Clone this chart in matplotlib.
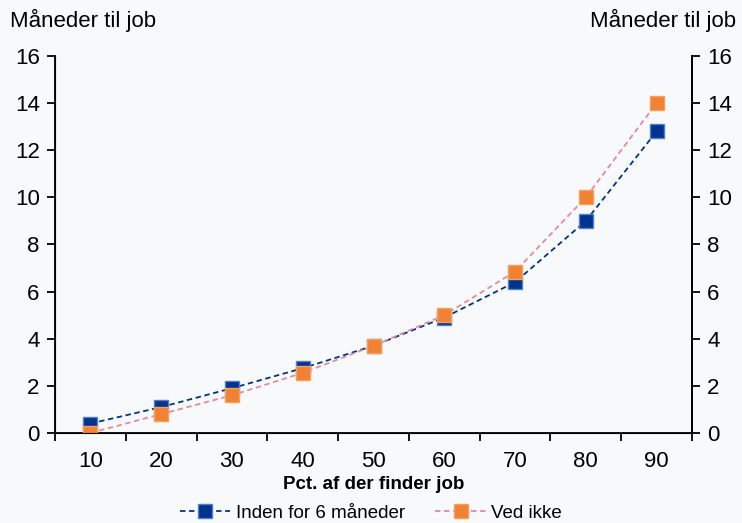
import matplotlib.pyplot as plt
from matplotlib.ticker import FixedLocator

plt.rcParams['font.family'] = ['Liberation Sans', 'DejaVu Sans']

categories = ["10", "20", "30", "40", "50", "60", "70", "80", "90"]
inden_6 = [0.4, 1.1, 1.9, 2.75, 3.7, 4.9, 6.4, 9.0, 12.8]
ved_ikke = [0.0, 0.8, 1.6, 2.55, 3.7, 5.0, 6.85, 10.0, 14.0]

BG = "#f7f9fa"
BLUE = "#00338d"
BLUE_EDGE = "#4f7fd0"
ORANGE = "#f08232"
PINK = "#e8899a"


def main():
    fig = plt.figure(figsize=(7.42, 5.23), dpi=100, facecolor=BG)
    ax = fig.add_axes([55 / 742, 1 - 433 / 523, 637 / 742, 377 / 523])
    ax.set_facecolor(BG)

    x = list(range(1, len(categories) + 1))
    ax.plot(x, inden_6, linestyle=(0, (3, 2)), color=BLUE, lw=1.3,
            marker="s", markersize=9.5, markerfacecolor=BLUE,
            markeredgecolor=BLUE_EDGE, markeredgewidth=1,
            label="Inden for 6 måneder", zorder=3)
    ax.plot(x, ved_ikke, linestyle=(0, (3, 2)), color=PINK, lw=1.3,
            marker="s", markersize=9.5, markerfacecolor=ORANGE,
            markeredgecolor="#f5a060", markeredgewidth=1,
            label="Ved ikke", zorder=4)

    ax.set_xlim(0.5, len(categories) + 0.5)
    ax.set_ylim(0, 16)
    ax.set_yticks(range(0, 17, 2))

    # category labels centred, ticks on boundaries
    ax.xaxis.set_major_locator(FixedLocator([i + 0.5 for i in range(len(categories) + 1)]))
    ax.set_xticklabels([])
    ax.xaxis.set_minor_locator(FixedLocator(x))
    ax.set_xticklabels(categories, minor=True)
    ax.tick_params(axis="x", which="major", direction="out", length=6, width=1.3)
    ax.tick_params(axis="x", which="minor", length=0, pad=13, labelsize=16)
    ax.tick_params(axis="y", direction="out", length=6, width=1.3, labelsize=16, pad=5)

    ax.spines["top"].set_visible(False)
    for s in ["left", "right", "bottom"]:
        ax.spines[s].set_linewidth(1.3)

    ax2 = ax.twinx()
    ax2.set_ylim(0, 16)
    ax2.set_yticks(range(0, 17, 2))
    ax2.tick_params(axis="y", direction="out", length=6, width=1.3, labelsize=16, pad=5)
    ax2.spines["top"].set_visible(False)
    ax2.spines["right"].set_linewidth(1.3)

    ax.set_xlabel("Pct. af der finder job", fontsize=13.5, fontweight="bold", labelpad=3)

    fig.text(10 / 742, 1 - 20 / 523, "Måneder til job", fontsize=16, va="center", ha="left")
    fig.text(736 / 742, 1 - 20 / 523, "Måneder til job", fontsize=16, va="center", ha="right")

    fig.legend(loc="center", bbox_to_anchor=(0.5, 1 - 513 / 523), ncol=2, frameon=False,
               fontsize=13.5, handlelength=2.7, columnspacing=1.6, handletextpad=0.3)

    fig.savefig("out.png", dpi=100, facecolor=BG)
    plt.close(fig)


if __name__ == "__main__":
    main()
